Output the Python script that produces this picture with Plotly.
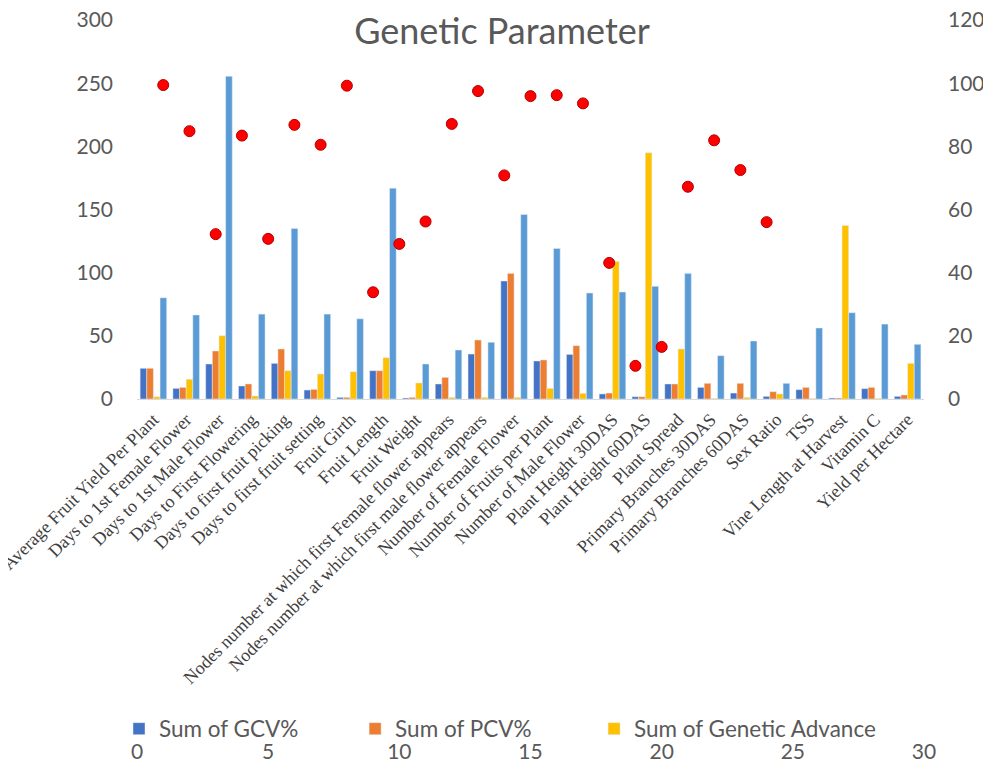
import plotly.graph_objects as go

categories = [
    "Average Fruit Yield Per Plant", "Days to 1st Female Flower", "Days to 1st Male Flower",
    "Days to First Flowering", "Days to first fruit picking", "Days to first fruit setting",
    "Fruit Girth", "Fruit Length", "Fruit Weight",
    "Nodes number at which first Female flower appears",
    "Nodes number at which first male flower appears",
    "Number of Female Flower", "Number of Fruits per Plant", "Number of Male Flower",
    "Plant Height 30DAS", "Plant Height 60DAS", "Plant Spread", "Primary Branches 30DAS",
    "Primary Branches 60DAS", "Sex Ratio", "TSS", "Vine Length at Harvest", "Vitamin C",
    "Yield per Hectare",
]

gcv = [24.3, 8.4, 27.7, 10.3, 28.2, 7.1, 1.3, 22.4, 0.8, 11.9, 35.6, 93.4,
       30.1, 35.3, 4.0, 1.8, 11.9, 9.2, 4.7, 2.1, 7.4, 0.8, 8.2, 2.1]
pcv = [24.3, 9.2, 38.0, 11.9, 39.6, 7.6, 1.3, 22.4, 1.3, 17.1, 46.7, 99.4,
       30.9, 42.2, 4.7, 1.8, 11.9, 12.4, 12.4, 5.8, 9.2, 0.8, 9.2, 3.2]
genetic_advance = [1.8, 15.6, 50.1, 2.4, 22.4, 19.8, 21.6, 32.7, 12.7, 1.3, 1.3, 1.3,
                   8.4, 4.5, 108.9, 194.9, 39.6, 0.5, 1.3, 4.0, 0.5, 137.4, 0.5, 28.2]
ga_percent_mean = [80.1, 66.5, 255.5, 67.2, 135.0, 67.2, 63.5, 166.9, 27.7, 38.8, 44.9, 146.1,
                   119.2, 83.9, 84.7, 89.2, 99.4, 34.3, 45.9, 12.4, 56.2, 68.3, 59.3, 43.3]
heritability = [99.4, 84.8, 52.2, 83.4, 50.7, 86.8, 80.5, 99.2, 33.8, 49.1, 56.2, 87.1,
                97.5, 70.8, 95.9, 96.2, 93.6, 43.1, 10.5, 16.5, 67.2, 81.9, 72.5, 56.0]
heritability_index = list(range(1, len(heritability) + 1))

GRAY = "#595959"
NUMFONT = "Lato"

fig = go.Figure()
fig.add_trace(go.Bar(x=categories, y=gcv, name="Sum of GCV%" + "\u00a0" * 9,
                     marker_color="#4472C4"))
fig.add_trace(go.Bar(x=categories, y=pcv, name="Sum of PCV%" + "\u00a0" * 10,
                     marker_color="#ED7D31"))
fig.add_trace(go.Bar(x=categories, y=genetic_advance, name="Sum of Genetic Advance",
                     marker_color="#FFC000"))
fig.add_trace(go.Bar(x=categories, y=ga_percent_mean, name="Sum of Genetic Advance as % of Mean",
                     marker_color="#5B9BD5", showlegend=False))
fig.add_trace(go.Scatter(x=heritability_index, y=heritability, name="Sum of Heritability",
                         mode="markers", xaxis="x2", yaxis="y2", showlegend=False,
                         marker=dict(color="#FF0000", size=11,
                                     line=dict(color="#B00000", width=1))))

# page body adds an 8px offset; lay out in page coordinates minus 8
OFF = 8
W, H = 991 - OFF, 767 - OFF
ML, MR, MT, MB = 92, W - (924 - OFF), 20 - OFF, H - (737 - OFF)
PAPER_W = W - ML - MR
PAPER_BOTTOM = H - MB
PAPER_H = PAPER_BOTTOM - MT
x_dom = [((137 - OFF) - ML) / PAPER_W, 1]
dom_bottom = (PAPER_BOTTOM - (399 - OFF)) / PAPER_H

fig.update_layout(
    width=W, height=H, autosize=False,
    margin=dict(l=ML, r=MR, t=MT, b=MB),
    paper_bgcolor="white", plot_bgcolor="white",
    barmode="group", bargap=0.19, bargroupgap=0,
    title=dict(text="Genetic Parameter", x=494 / W, xref="container", xanchor="center",
               y=1 - 23 / H, yref="container", yanchor="middle",
               font=dict(family=NUMFONT, size=36, color=GRAY)),
    xaxis=dict(type="category", domain=x_dom, showgrid=False, zeroline=False,
               showline=True, linecolor="#D9D9D9", linewidth=1, ticks="", tickangle=-45,
               automargin=False, ticklabelstandoff=2, ticklabeloverflow="allow",
               tickfont=dict(family="Liberation Serif", size=18, color="#404040")),
    yaxis=dict(domain=[dom_bottom, 1], range=[0, 300], dtick=50, showgrid=False,
               zeroline=False, showline=False, ticks="", automargin=False,
               ticklabelstandoff=23, ticklabeloverflow="allow",
               tickfont=dict(family=NUMFONT, size=21, color=GRAY)),
    xaxis2=dict(overlaying="x", domain=x_dom, side="bottom", anchor="free", position=0,
                range=[0, 30], dtick=5, showgrid=False, zeroline=False, showline=False,
                ticks="", automargin=False, ticklabelstandoff=0, ticklabeloverflow="allow",
                tickfont=dict(family=NUMFONT, size=21, color=GRAY)),
    yaxis2=dict(overlaying="y", side="right", anchor="x", range=[0, 120], dtick=20,
                showgrid=False, zeroline=False, showline=False, ticks="",
                automargin=False, ticklabelstandoff=23, ticklabeloverflow="allow",
                tickfont=dict(family=NUMFONT, size=21, color=GRAY)),
    legend=dict(orientation="h", x=(111 - ML) / PAPER_W, xanchor="left",
                y=(PAPER_BOTTOM - (729 - OFF)) / PAPER_H, yanchor="middle",
                font=dict(family=NUMFONT, size=22.5, color=GRAY),
                bgcolor="rgba(0,0,0,0)", traceorder="normal"),
)

fig.write_html("out.html")
